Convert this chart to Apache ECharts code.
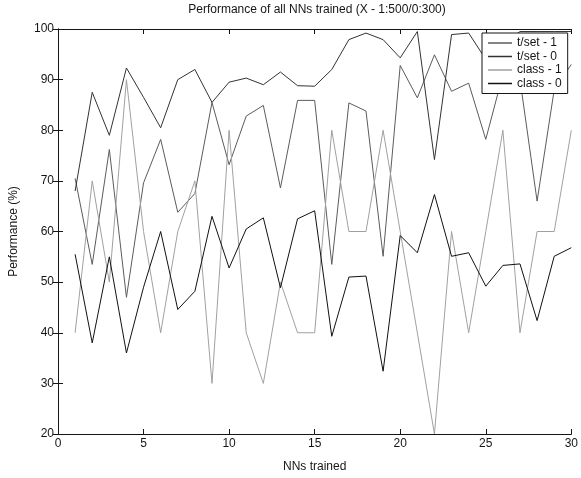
<!DOCTYPE html>
<html>
<head>
<meta charset="utf-8">
<script src="https://cdn.jsdelivr.net/npm/echarts@6/dist/echarts.min.js"></script>
<style>
html,body{margin:0;padding:0;background:#fff;}
#chart{width:581px;height:478px;}
</style>
</head>
<body>
<div id="chart"></div>
<script>
// ---- data ----
const nnTrained = [1,2,3,4,5,6,7,8,9,10,11,12,13,14,15,16,17,18,19,20,21,22,23,24,25,26,27,28,29,30];
const seriesNames = ['t/set - 1', 't/set - 0', 'class - 1', 'class - 0'];
const tset1  = [70.5,53.5,76.2,47,69.6,78.2,63.8,67.5,85.5,73.2,82.8,84.9,68.6,85.9,85.9,53.5,85.4,83.8,55.1,92.8,86.4,94.9,87.7,89.3,78.2,91,90,66,88,93];
const tset0  = [68,87.5,79,92.3,86.5,80.5,90,92,85.5,89.5,90.3,89,91.5,88.8,88.7,92,97.9,99.2,97.9,94.3,99.5,74.2,98.9,99.2,94,97,99.5,99.5,99.5,99.5];
const class1 = [40,70,50,90,60,40,60,70,30,80,40,30,50,40,40,80,60,60,80,60,40,20,60,40,60,80,40,60,60,80];
const class0 = [55.5,38,55,36,49,60,44.6,48.2,63,52.8,60.5,62.7,48.9,62.5,64.1,39.3,51,51.2,32.4,59.2,55.8,67.3,55.1,55.8,49.2,53.3,53.6,42.4,55.1,56.8];
const xTicks = [0,5,10,15,20,25,30];
const yTicks = [20,30,40,50,60,70,80,90,100];
const titleText = 'Performance of all NNs trained (X - 1:500/0:300)';
const xName = 'NNs trained';
const yName = 'Performance (%)';

const FONT = '"Liberation Sans", Arial, Helvetica, sans-serif';
const INK = '#151515';
const colors = ['#5c5c5c', '#333333', '#a0a0a0', '#111111'];
const values = [tset1, tset0, class1, class0];

function pairs(arr){ return nnTrained.map((x,i)=>[x, arr[i]]); }

const chart = echarts.init(document.getElementById('chart'), null, {renderer:'canvas'});

const axisCommon = {
  type: 'value',
  axisLine: {show: true, lineStyle: {color: INK, width: 1}},
  axisTick: {show: true, inside: true, length: 5, lineStyle: {color: INK, width: 1}},
  splitLine: {show: false}
};

chart.setOption({
  animation: false,
  backgroundColor: '#ffffff',
  graphic: [{
    type: 'text', x: 317, y: 10,
    style: {text: titleText, align: 'center', verticalAlign: 'middle',
            font: '12px ' + FONT, fill: INK}
  }],
  grid: {left: 57, right: 4, top: 29, bottom: 43, containLabel: false},
  legend: {
    orient: 'vertical', left: 482, top: 33,
    data: seriesNames,
    icon: 'rect', itemWidth: 24, itemHeight: 1.5, itemGap: 1.5,
    padding: [4, 6, 4, 6],
    backgroundColor: '#ffffff', borderColor: INK, borderWidth: 1,
    textStyle: {fontFamily: FONT, fontSize: 12, color: INK},
    selectedMode: false
  },
  xAxis: [
    Object.assign({}, axisCommon, {
      position: 'bottom', min: xTicks[0], max: xTicks[xTicks.length-1], interval: 5,
      axisLabel: {show: true, margin: 4, fontFamily: FONT, fontSize: 12, color: INK},
      name: xName, nameLocation: 'middle', nameGap: 27,
      nameTextStyle: {fontFamily: FONT, fontSize: 12, color: INK}
    }),
    Object.assign({}, axisCommon, {
      position: 'top', min: xTicks[0], max: xTicks[xTicks.length-1], interval: 5,
      axisLabel: {show: false}
    })
  ],
  yAxis: [
    Object.assign({}, axisCommon, {
      position: 'left', min: yTicks[0], max: yTicks[yTicks.length-1], interval: 10,
      axisLabel: {show: true, margin: 4, fontFamily: FONT, fontSize: 12, color: INK},
      name: yName, nameLocation: 'middle', nameGap: 38, nameRotate: 90,
      nameTextStyle: {fontFamily: FONT, fontSize: 12, color: INK}
    }),
    Object.assign({}, axisCommon, {
      position: 'right', min: yTicks[0], max: yTicks[yTicks.length-1], interval: 10,
      axisLabel: {show: false}
    })
  ],
  series: seriesNames.map((name, i) => ({
    name: name, type: 'line', xAxisIndex: 0, yAxisIndex: 0,
    data: pairs(values[i]), symbol: 'none', silent: true,
    lineStyle: {width: 1, color: colors[i]}, itemStyle: {color: colors[i]},
    z: 2
  }))
});
</script>
</body>
</html>
